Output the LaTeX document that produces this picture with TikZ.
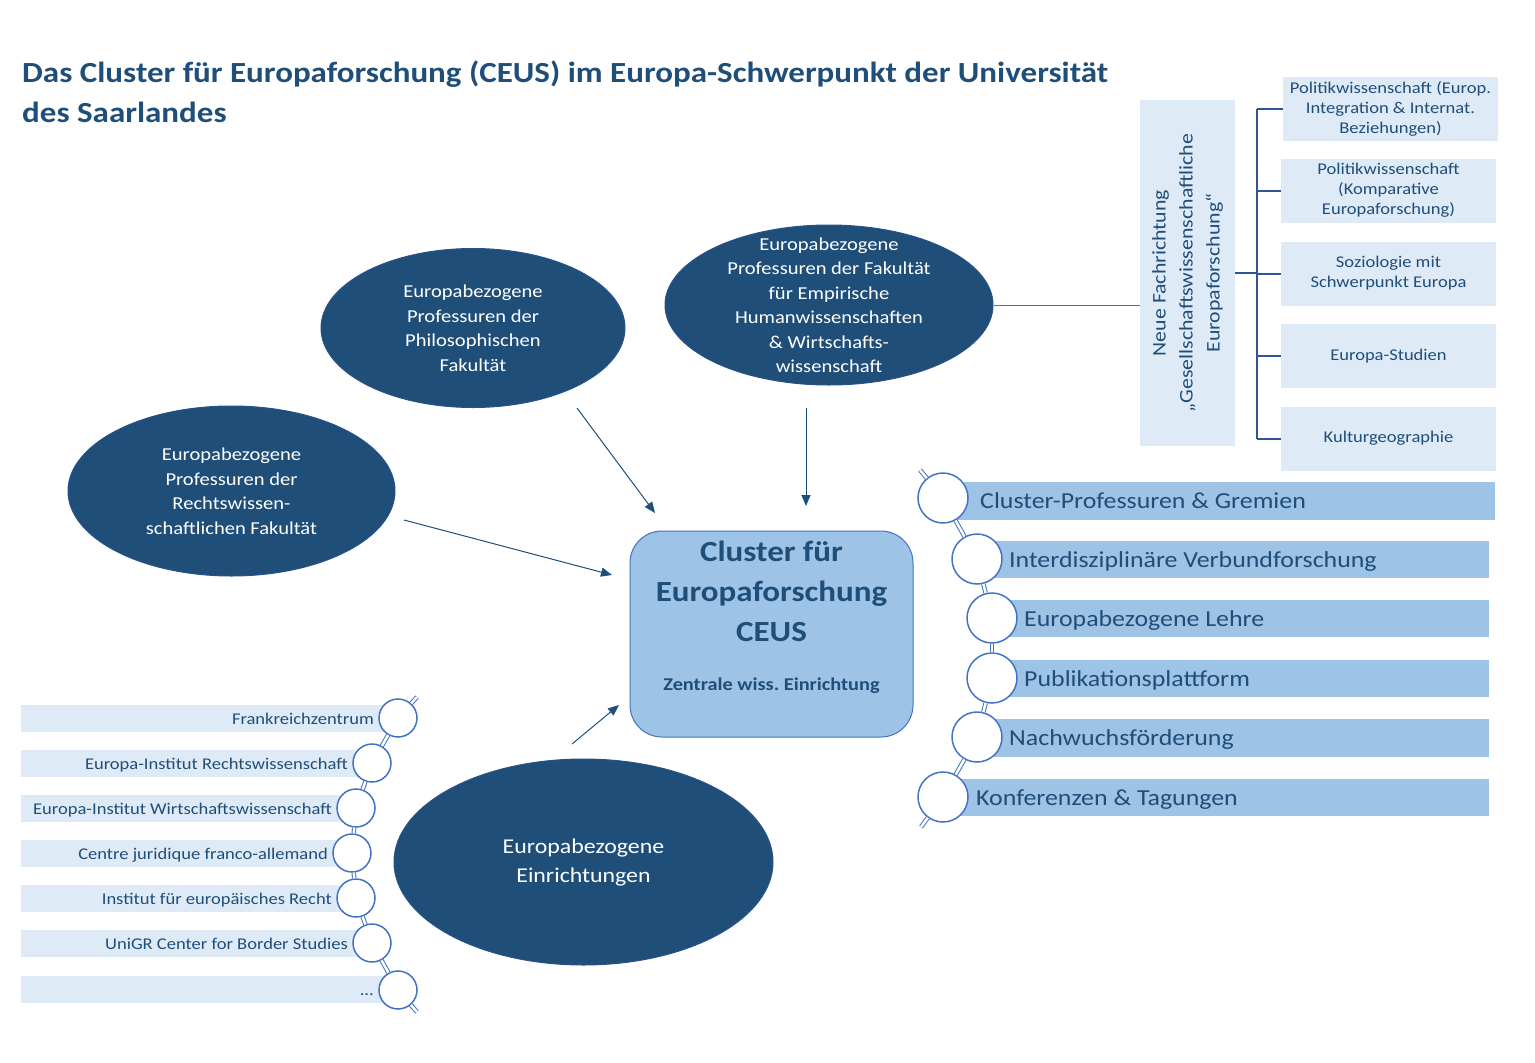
\documentclass[tikz,border=0pt]{standalone}
\usepackage{fontspec}
\setmainfont{Carlito}[FakeStretch=1.13]
\usepackage{tikz}
\usetikzlibrary{shapes.geometric,arrows.meta}

\definecolor{ceusdark}{HTML}{1F4E79}
\definecolor{ceustext}{HTML}{1F4E79}
\definecolor{ceuslight}{HTML}{DEEBF7}
\definecolor{ceusmid}{HTML}{9DC3E6}
\definecolor{ceusring}{HTML}{4472C4}
\definecolor{ceusline}{HTML}{2F5597}

\frenchspacing
\begin{document}
\begin{tikzpicture}[x=1pt, y=-1pt,
    every node/.style={text=ceustext, inner sep=0pt},
    fac/.style={ellipse, fill=ceusdark, draw=ceusline!60!ceusdark, line width=1pt},
    factext/.style={text=white, align=center, font=\fontsize{18.2}{24.5}\selectfont},
    box/.style={fill=ceuslight, minimum width=215pt, minimum height=64pt, align=center,
                font=\fontsize{16.4}{20}\selectfont},
    ring/.style={circle, draw=ceusring, fill=white, line width=1.5pt, minimum size=50pt},
    smallring/.style={ring, minimum size=38pt},
    link/.style={draw=ceusring, double=white, double distance=2.5pt, line width=1pt},
    item/.style={font=\fontsize{22.9}{27}\selectfont},
    institut/.style={font=\fontsize{16.4}{20}\selectfont},
    arr/.style={-{Triangle[length=11pt, width=9pt]}, ceusdark, line width=1pt},
    brk/.style={ceusline, line width=2pt}]

  \useasboundingbox (0,0) rectangle (1535,1063);

  % title
  \node[anchor=north west, align=left, font=\fontsize{29.2}{40}\selectfont\bfseries]
    (title) at (22,61)
    {Das Cluster für Europaforschung (CEUS) im Europa-Schwerpunkt der Universität\\des Saarlandes};

  % faculties
  \node[fac, minimum width=304pt, minimum height=159pt] (phil) at (473,328) {};
  \node[factext] (philtext) at (phil) {Europabezogene\\Professuren der\\Philosophischen\\Fakultät};
  \node[fac, minimum width=328pt, minimum height=160pt] (emp) at (829,305) {};
  \node[factext] (emptext) at (emp) {Europabezogene\\Professuren der Fakultät\\für Empirische\\Humanwissenschaften\\\& Wirtschafts-\\wissenschaft};
  \node[fac, minimum width=327pt, minimum height=170pt] (rechts) at (231.5,491) {};
  \node[factext] (rechtstext) at (rechts) {Europabezogene\\Professuren der\\Rechtswissen-\\schaftlichen Fakultät};
  \node[fac, minimum width=379pt, minimum height=206pt] (einr) at (583.5,862) {};
  \node[factext, font=\fontsize{21.1}{29}\selectfont] (einrtext) at (einr) {Europabezogene\\Einrichtungen};

  % the cluster
  \node[rectangle, rounded corners=32pt, fill=ceusmid, draw=ceusring, line width=1pt,
        minimum width=283pt, minimum height=206pt] (ceus) at (771.5,634) {};
  \node[align=center, font=\fontsize{29.2}{40}\selectfont\bfseries] (ceustext)
    at ([yshift=17pt]ceus.center)
    {Cluster für\\Europaforschung\\CEUS\\[9pt]{\fontsize{18}{22}\selectfont Zentrale wiss. Einrichtung}};

  % arrows into the cluster
  \coordinate (phA) at (577,408);
  \coordinate (phB) at (655,513);
  \coordinate (emA) at (806,408);
  \coordinate (emB) at (806,506);
  \coordinate (reA) at (404,520);
  \coordinate (reB) at (612,575);
  \coordinate (eiA) at (572,744);
  \coordinate (eiB) at (619,705);
  \draw[arr] (phA) -- (phB);
  \draw[arr] (emA) -- (emB);
  \draw[arr] (reA) -- (reB);
  \draw[arr] (eiA) -- (eiB);

  % new study programme
  \node[fill=ceuslight, rotate=90, minimum width=346pt, minimum height=95pt, align=center,
        font=\fontsize{19.3}{27}\selectfont] (fach) at (1187.5,273)
    {Neue Fachrichtung\\„Gesellschaftswissenschaftliche\\Europaforschung“};
  \draw[ceusring, line width=1pt] (emp.east) -- (emp.east -| fach.north);

  \node[box] (pw1) at (1390.5,109) {Politikwissenschaft (Europ.\\Integration \& Internat.\\Beziehungen)};
  \node[box] (pw2) at (1388.5,190.5) {Politikwissenschaft\\(Komparative\\Europaforschung)};
  \node[box] (pw3) at (1388.5,273.5) {Soziologie mit\\Schwerpunkt Europa};
  \node[box] (pw4) at (1388.5,356) {Europa-Studien};
  \node[box] (pw5) at (1388.5,438.5) {Kulturgeographie};

  \draw[brk] (fach.south) -- ++(22,0) coordinate (fork);
  \draw[brk] (fork |- pw1.west) -- (fork |- pw5.west);
  \draw[brk] (fork |- pw1.west) -- (pw1.west);
  \draw[brk] (fork |- pw2.west) -- (pw2.west);
  \draw[brk] (fork |- pw3.west) -- (pw3.west);
  \draw[brk] (fork |- pw4.west) -- (pw4.west);
  \draw[brk] (fork |- pw5.west) -- (pw5.west);

  % tasks (right chain)
  \fill[ceusmid] (943,482) rectangle (1495,520);
  \fill[ceusmid] (977,541) rectangle (1489,578);
  \fill[ceusmid] (992,600) rectangle (1489,637);
  \fill[ceusmid] (992,660) rectangle (1489,697);
  \fill[ceusmid] (977,719) rectangle (1489,757);
  \fill[ceusmid] (943,779) rectangle (1489,816);
  \node[item, anchor=base west] (t1) at (980,508) {Cluster-Professuren \& Gremien};
  \node[item, anchor=base west] (t2) at (1009,567) {Interdisziplinäre Verbundforschung};
  \node[item, anchor=base west] (t3) at (1024,626) {Europabezogene Lehre};
  \node[item, anchor=base west] (t4) at (1024,686) {Publikationsplattform};
  \node[item, anchor=base west] (t5) at (1009,745) {Nachwuchsförderung};
  \node[item, anchor=base west] (t6) at (976,805) {Konferenzen \& Tagungen};

  \node[ring] (c1) at (943,498) {};
  \node[ring] (c2) at (977,559) {};
  \node[ring] (c3) at (992,618) {};
  \node[ring] (c4) at (992,678) {};
  \node[ring] (c5) at (977,737) {};
  \node[ring] (c6) at (943,797) {};
  \coordinate (ctop) at (920,470);
  \coordinate (cbot) at (921,827);
  \draw[link] (ctop) -- (c1);
  \draw[link] (c1) -- (c2);
  \draw[link] (c2) -- (c3);
  \draw[link] (c3) -- (c4);
  \draw[link] (c4) -- (c5);
  \draw[link] (c5) -- (c6);
  \draw[link] (c6) -- (cbot);

  % institutes (left chain)
  \fill[ceuslight] (21,705) rectangle (398,732);
  \fill[ceuslight] (21,750) rectangle (372,777);
  \fill[ceuslight] (21,795) rectangle (356,822);
  \fill[ceuslight] (21,840) rectangle (352,867);
  \fill[ceuslight] (21,885) rectangle (356,912);
  \fill[ceuslight] (21,930) rectangle (372,957);
  \fill[ceuslight] (21,976) rectangle (398,1003);
  \node[institut, anchor=base east] (e1) at (374,724) {Frankreichzentrum};
  \node[institut, anchor=base east] (e2) at (348,769) {Europa-Institut Rechtswissenschaft};
  \node[institut, anchor=base east] (e3) at (332,814) {Europa-Institut Wirtschaftswissenschaft};
  \node[institut, anchor=base east] (e4) at (328,859) {Centre juridique franco-allemand};
  \node[institut, anchor=base east] (e5) at (332,904) {Institut für europäisches Recht};
  \node[institut, anchor=base east] (e6) at (348,949) {UniGR Center for Border Studies};
  \node[institut, anchor=base east] (e7) at (374,995) {...};

  \node[smallring] (d1) at (398,718) {};
  \node[smallring] (d2) at (372,763) {};
  \node[smallring] (d3) at (356,808) {};
  \node[smallring] (d4) at (352,853) {};
  \node[smallring] (d5) at (356,898) {};
  \node[smallring] (d6) at (372,943) {};
  \node[smallring] (d7) at (398,990) {};
  \coordinate (dtop) at (417,697);
  \coordinate (dbot) at (417,1012);
  \draw[link] (dtop) -- (d1);
  \draw[link] (d1) -- (d2);
  \draw[link] (d2) -- (d3);
  \draw[link] (d3) -- (d4);
  \draw[link] (d4) -- (d5);
  \draw[link] (d5) -- (d6);
  \draw[link] (d6) -- (d7);
  \draw[link] (d7) -- (dbot);
\end{tikzpicture}
\end{document}
